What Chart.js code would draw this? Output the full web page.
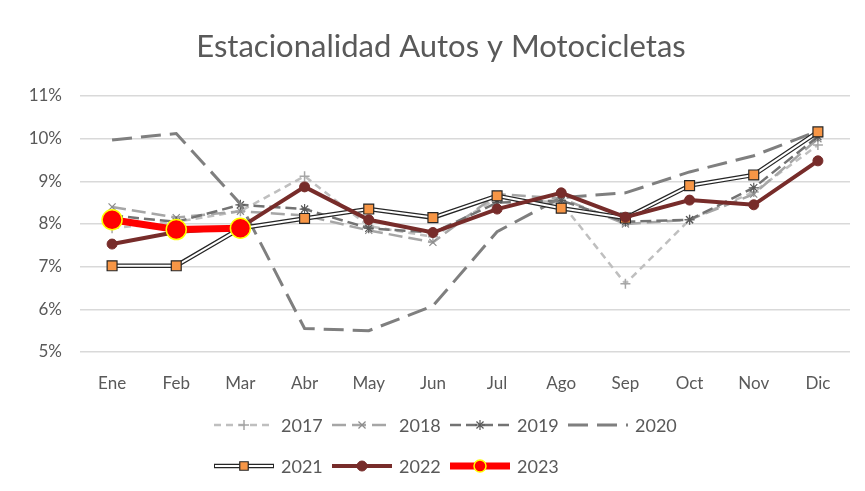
<!DOCTYPE html>
<html>
<head>
<meta charset="utf-8">
<script src="https://cdn.jsdelivr.net/npm/chart.js@4.4.1/dist/chart.umd.min.js"></script>
<style>
  html, body { margin: 0; background: #fff; }
</style>
</head>
<body>
<canvas id="chart" width="865" height="491"></canvas>
<script>
// valores (en %)
const months = ["Ene", "Feb", "Mar", "Abr", "May", "Jun", "Jul", "Ago", "Sep", "Oct", "Nov", "Dic"];
const yTicks = [5, 6, 7, 8, 9, 10, 11];

const s2017 = [7.9, 8.05, 8.3, 9.12, 7.95, 7.7, 8.6, 8.5, 6.6, 8.1, 8.75, 9.85];
const s2018 = [8.4, 8.15, 8.3, 8.2, 7.85, 7.57, 8.7, 8.6, 8.0, 8.1, 8.7, 10.0];
const s2019 = [8.2, 8.05, 8.45, 8.35, 7.9, 7.8, 8.5, 8.55, 8.05, 8.1, 8.85, 10.05];
const s2020 = [9.97, 10.12, 8.47, 5.55, 5.5, 6.08, 7.82, 8.62, 8.73, 9.22, 9.6, 10.18];
const s2021 = [7.02, 7.02, 7.9, 8.13, 8.35, 8.15, 8.66, 8.37, 8.14, 8.9, 9.15, 10.16];
const s2022 = [7.53, 7.81, 7.92, 8.87, 8.1, 7.8, 8.35, 8.73, 8.16, 8.56, 8.45, 9.48];
const s2023 = [8.1, 7.87, 7.9, null, null, null, null, null, null, null, null, null];

const titleText = "Estacionalidad Autos y Motocicletas";
const textColor = "#595959";
const gridColor = "#d9d9d9";
const fontFamily = "Lato, 'Open Sans', sans-serif";

function lineSet(label, data, opts) {
  return Object.assign({
    label,
    data,
    fill: false,
    tension: 0,
    spanGaps: false,
    pointRotation: 0,
  }, opts);
}

const datasets = [
  lineSet("2017", s2017, {
    borderColor: "#bfbfbf", borderWidth: 2.5, borderDash: [7, 5],
    pointStyle: "cross", pointRadius: 5, pointBorderWidth: 1.5,
    pointBorderColor: "#a6a6a6", pointBackgroundColor: "#a6a6a6", order: 8,
  }),
  lineSet("2018", s2018, {
    borderColor: "#a6a6a6", borderWidth: 2.5, borderDash: [14, 6],
    pointStyle: "crossRot", pointRadius: 5, pointBorderWidth: 1.2,
    pointBorderColor: "#8c8c8c", pointBackgroundColor: "#8c8c8c", order: 7,
  }),
  lineSet("2019", s2019, {
    borderColor: "#737373", borderWidth: 2.5, borderDash: [11, 5],
    pointStyle: "star", pointRadius: 5, pointBorderWidth: 1.2,
    pointBorderColor: "#595959", pointBackgroundColor: "#595959", order: 6,
  }),
  lineSet("2020", s2020, {
    borderColor: "#7f7f7f", borderWidth: 3, borderDash: [20, 9],
    pointRadius: 0, order: 5,
  }),
  lineSet("2021", s2021, {
    borderColor: "#262626", borderWidth: 4.5,
    pointRadius: 0, order: 4,
  }),
  lineSet("2021-inner", s2021, {
    borderColor: "#ffffff", borderWidth: 2,
    pointStyle: "rect", pointRadius: 7, pointBorderWidth: 1.2,
    pointBorderColor: "#262626", pointBackgroundColor: "#f79646", order: 3,
  }),
  lineSet("2022", s2022, {
    borderColor: "#772c2a", borderWidth: 4,
    pointStyle: "circle", pointRadius: 5, pointBorderWidth: 1,
    pointBorderColor: "#772c2a", pointBackgroundColor: "#772c2a", order: 2,
  }),
  lineSet("2023", s2023, {
    borderColor: "#ff0000", borderWidth: 7,
    pointStyle: "circle", pointRadius: 10, pointBorderWidth: 1.5,
    pointBorderColor: "#ffff00", pointBackgroundColor: "#ff0000", order: 1,
  }),
];

const legendRows = [["2017", "2018", "2019", "2020"], ["2021", "2022", "2023"]];

// título centrado sobre todo el lienzo, como en Excel
const excelTitle = {
  id: "excelTitle",
  afterDraw(chart) {
    const ctx = chart.ctx;
    ctx.save();
    ctx.fillStyle = textColor;
    ctx.font = "31px " + fontFamily;
    ctx.textAlign = "center";
    ctx.textBaseline = "middle";
    ctx.fillText(titleText, 441, 47);
    ctx.restore();
  },
};

// leyenda estilo Excel, filas alineadas a la izquierda
const excelLegend = {
  id: "excelLegend",
  afterDraw(chart) {
    const ctx = chart.ctx;
    const rowY = [425, 466];
    ctx.save();
    legendRows.forEach((row, r) => {
      const y = rowY[r];
      row.forEach((name, k) => {
        const x0 = 214 + k * 118;
        const ds = chart.data.datasets.find(d => d.label === name);
        const inner = name === "2021" ? chart.data.datasets.find(d => d.label === "2021-inner") : null;
        ctx.setLineDash(ds.borderDash || []);
        ctx.strokeStyle = ds.borderColor;
        ctx.lineWidth = ds.borderWidth;
        ctx.beginPath();
        ctx.moveTo(x0, y);
        ctx.lineTo(x0 + 60, y);
        ctx.stroke();
        ctx.setLineDash([]);
        const m = inner || ds;
        if (inner) {
          ctx.strokeStyle = inner.borderColor;
          ctx.lineWidth = inner.borderWidth;
          ctx.beginPath();
          ctx.moveTo(x0 + 1, y);
          ctx.lineTo(x0 + 59, y);
          ctx.stroke();
        }
        if (m.pointRadius > 0) {
          ctx.fillStyle = m.pointBackgroundColor;
          ctx.strokeStyle = m.pointBorderColor;
          ctx.lineWidth = m.pointBorderWidth;
          Chart.helpers.drawPoint(ctx, {
            pointStyle: m.pointStyle,
            rotation: 0,
            radius: name === "2023" ? 6 : Math.min(m.pointRadius, 6),
            borderWidth: m.pointBorderWidth,
          }, x0 + 30, y);
        }
        ctx.fillStyle = textColor;
        ctx.font = "18px " + fontFamily;
        ctx.textBaseline = "middle";
        ctx.textAlign = "left";
        ctx.fillText(name, x0 + 67, y + 1);
      });
    });
    ctx.restore();
  },
};

new Chart(document.getElementById("chart"), {
  type: "line",
  data: { labels: months, datasets },
  plugins: [excelTitle, excelLegend],
  options: {
    responsive: false,
    animation: false,
    devicePixelRatio: 1,
    layout: { padding: { left: 0, right: 15, top: 96, bottom: 0 } },
    plugins: {
      legend: { display: false },
      tooltip: { enabled: false },
      title: { display: false },
    },
    scales: {
      x: {
        offset: true,
        grid: { display: false },
        border: { display: false },
        ticks: { color: textColor, font: { family: fontFamily, size: 17 }, padding: 13 },
        afterFit(scale) { scale.height = 139; },
      },
      y: {
        min: yTicks[0],
        max: yTicks[yTicks.length - 1],
        afterBuildTicks(scale) { scale.ticks = yTicks.map(v => ({ value: v })); },
        grid: { color: gridColor, lineWidth: 1.5, drawTicks: false },
        border: { display: false },
        ticks: {
          color: textColor,
          font: { family: fontFamily, size: 17 },
          padding: 18,
          callback: v => v + "%",
        },
        afterFit(scale) { scale.width = 80; },
      },
    },
  },
});
</script>
</body>
</html>
